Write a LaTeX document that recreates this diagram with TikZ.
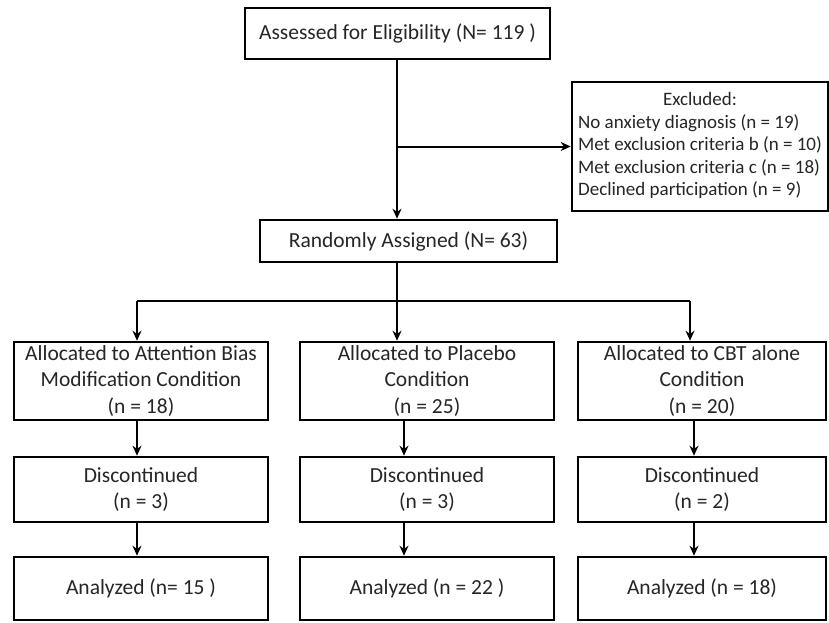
\documentclass[tikz,border=0pt]{standalone}
\usepackage{fontspec}
\setmainfont{Carlito}
\usetikzlibrary{arrows.meta}
\tikzset{
  box/.style={draw=black, line width=2.6pt, fill=white, align=center, inner sep=1pt,
    font=\fontsize{21.5}{26.5}\selectfont, text=black!85},
  arr/.style={line width=2pt, -{Stealth[length=10pt,width=9pt]}},
  ln/.style={line width=2pt}
}
\begin{document}
\begin{tikzpicture}[x=1pt,y=-1pt]
\useasboundingbox[fill=white] (0,0) rectangle (829,623);
% top boxes
\node[box, minimum width=305pt, minimum height=51pt] (top) at (397.5,33.5) {Assessed for Eligibility (N= 119 )};
\node[box, minimum width=256pt, minimum height=129pt, font=\fontsize{19}{22.5}\selectfont] (excl) at (700,146.5)
  {\begin{tabular}{@{}l@{}}\multicolumn{1}{@{}c@{}}{Excluded:}\\
   No anxiety diagnosis (n = 19)\\
   Met exclusion criteria b (n = 10)\\
   Met exclusion criteria c (n = 18)\\
   Declined participation (n = 9)\end{tabular}};
\node[box, minimum width=297pt, minimum height=42pt] (rand) at (408.5,241) {Randomly Assigned (N= 63)};
% row 1
\node[box, minimum width=254pt, minimum height=78pt] (a1) at (141,381) {Allocated to Attention Bias\\Modification Condition\\(n = 18)};
\node[box, minimum width=254pt, minimum height=78pt] (b1) at (427,381) {Allocated to Placebo\\Condition\\(n = 25)};
\node[box, minimum width=248pt, minimum height=78pt] (c1) at (702,381) {Allocated to CBT alone\\Condition\\(n = 20)};
% row 2
\node[box, minimum width=254pt, minimum height=65pt] (a2) at (141,489.5) {Discontinued\\(n = 3)};
\node[box, minimum width=254pt, minimum height=65pt] (b2) at (427,489.5) {Discontinued\\(n = 3)};
\node[box, minimum width=248pt, minimum height=65pt] (c2) at (702,489.5) {Discontinued\\(n = 2)};
% row 3
\node[box, minimum width=254pt, minimum height=63pt] (a3) at (141,588.5) {Analyzed (n= 15 )};
\node[box, minimum width=254pt, minimum height=63pt] (b3) at (427,588.5) {Analyzed (n = 22 )};
\node[box, minimum width=248pt, minimum height=63pt] (c3) at (702,588.5) {Analyzed (n = 18)};
% column coordinates
\coordinate (xm) at (397,0);
\coordinate (xl) at (137,0);
\coordinate (xr) at (690,0);
\coordinate (xlb) at (137,0);
\coordinate (xmb) at (404,0);
\coordinate (xrb) at (694,0);
\coordinate (split) at (397,301);
% connectors
\draw[arr] (top.south -| xm) -- (rand.north -| xm);
\draw[arr] (excl.west -| xm) -- (excl.west);
\draw[arr] (rand.south -| xm) -- (b1.north -| xm);
\draw[ln] (split -| xl) -- (split -| xr);
\draw[arr] (split -| xl) -- (a1.north -| xl);
\draw[arr] (split -| xr) -- (c1.north -| xr);
\draw[arr] (a1.south -| xlb) -- (a2.north -| xlb);
\draw[arr] (b1.south -| xmb) -- (b2.north -| xmb);
\draw[arr] (c1.south -| xrb) -- (c2.north -| xrb);
\draw[arr] (a2.south -| xlb) -- (a3.north -| xlb);
\draw[arr] (b2.south -| xmb) -- (b3.north -| xmb);
\draw[arr] (c2.south -| xrb) -- (c3.north -| xrb);
\end{tikzpicture}
\end{document}
